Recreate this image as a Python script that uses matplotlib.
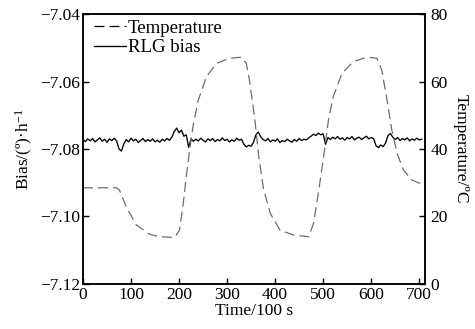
import numpy as np
import matplotlib
matplotlib.use("Agg")
import matplotlib.pyplot as plt

plt.rcParams['font.family'] = ['Liberation Serif', 'DejaVu Serif']
plt.rcParams['mathtext.fontset'] = 'custom'
plt.rcParams['mathtext.rm'] = 'Liberation Serif'
plt.rcParams['mathtext.it'] = 'Liberation Serif:italic'

# temperature curve (time in 100 s, degC)
temp_time = [0, 70, 76, 90, 111, 139, 160, 191, 201, 208, 215, 222, 229, 240, 257,
             278, 306, 330, 340, 347, 358, 366, 376, 390, 410, 438, 470, 480, 490,
             501, 511, 521, 539, 563, 591, 612, 622, 633, 643, 654, 667, 685, 705]
temp_vals = [28.5, 28.5, 27.8, 22.9, 17.5, 14.7, 14.0, 13.8, 16.0, 22.9, 31.8, 39.7,
             46.6, 54.5, 61.4, 65.4, 66.9, 67.2, 65.4, 60.0, 48.5, 37.7, 28.0, 20.9,
             16.0, 14.5, 14.0, 18.0, 26.9, 37.7, 48.6, 55.5, 62.4, 65.9, 67.2, 66.9,
             63.4, 54.5, 45.6, 38.7, 33.8, 30.8, 29.6]

# RLG bias, one reading every 5 units of time
bias_time = np.arange(0, 710, 5)
bias_vals = [
    -7.0772, -7.0778, -7.0770, -7.0776, -7.0769, -7.0779, -7.0773, -7.0767, -7.0777, -7.0771,
    -7.0780, -7.0770, -7.0775, -7.0768, -7.0776,
    -7.0800, -7.0806, -7.0785,
    -7.0772, -7.0779, -7.0768, -7.0776, -7.0771, -7.0781, -7.0774, -7.0769, -7.0778, -7.0772,
    -7.0777, -7.0770, -7.0779, -7.0774, -7.0780, -7.0771, -7.0776, -7.0769, -7.0774, -7.0765,
    -7.0748, -7.0738, -7.0752, -7.0744,
    -7.0762, -7.0758, -7.0795,
    -7.0770, -7.0777, -7.0771, -7.0776, -7.0768, -7.0774, -7.0779, -7.0770, -7.0775, -7.0769,
    -7.0778, -7.0772, -7.0776, -7.0767, -7.0775, -7.0771, -7.0779, -7.0773, -7.0777, -7.0768,
    -7.0774, -7.0771,
    -7.0786, -7.0794, -7.0789, -7.0792, -7.0780,
    -7.0758, -7.0750, -7.0764,
    -7.0772, -7.0776, -7.0769, -7.0779, -7.0773, -7.0777, -7.0770, -7.0781, -7.0775, -7.0778,
    -7.0771, -7.0776, -7.0780, -7.0772, -7.0777, -7.0769, -7.0775, -7.0771, -7.0773, -7.0767,
    -7.0762, -7.0756, -7.0760, -7.0753, -7.0758, -7.0755,
    -7.0786,
    -7.0766, -7.0772, -7.0765, -7.0770, -7.0763, -7.0771, -7.0767, -7.0774, -7.0766, -7.0770,
    -7.0763, -7.0773, -7.0768, -7.0765, -7.0772, -7.0767, -7.0762, -7.0770, -7.0766, -7.0769,
    -7.0790, -7.0796, -7.0788, -7.0793, -7.0782,
    -7.0760, -7.0754, -7.0765,
    -7.0772, -7.0766, -7.0775, -7.0769, -7.0773, -7.0767, -7.0776, -7.0770, -7.0774, -7.0768,
    -7.0773, -7.0771,
]

bias_ticks = [-7.12, -7.10, -7.08, -7.06, -7.04]
temp_ticks = [0, 20, 40, 60, 80]
time_ticks = [0, 100, 200, 300, 400, 500, 600, 700]

fig = plt.figure(figsize=(4.75, 3.29), dpi=100)
ax = fig.add_axes([0.1747, 0.1368, 0.72, 0.8206])
ax2 = ax.twinx()

l_bias, = ax.plot(bias_time, bias_vals, color='black', lw=0.95, label='RLG bias')
l_temp, = ax2.plot(temp_time, temp_vals, color='#6e6e6e', lw=0.9, dashes=(8, 4),
                   label='Temperature')

ax.set_xlim(0, 712)
ax.set_ylim(-7.12, -7.04)
ax2.set_ylim(0, 80)
ax.set_xticks(time_ticks)
ax.set_yticks(bias_ticks)
ax.set_yticklabels(['\u22127.12', '\u22127.10', '\u22127.08', '\u22127.06', '\u22127.04'])
ax2.set_yticks(temp_ticks)

ax.tick_params(direction='in', length=4, width=1, labelsize=12.5, pad=2)
ax2.tick_params(direction='in', length=4, width=1, labelsize=12.5, pad=4)
for a in (ax, ax2):
    for s in a.spines.values():
        s.set_linewidth(1.1)

ax.set_xlabel('Time/100 s', fontsize=12.5, labelpad=0)
ax.set_ylabel('Bias/(\u00ba)\u00b7h$^{-1}$', fontsize=12.5, labelpad=4)
ax2.set_ylabel('Temperature/\u00baC', fontsize=12.5, rotation=-90, labelpad=15)

leg = ax.legend([l_temp, l_bias], ['Temperature', 'RLG bias'], loc='upper left',
                bbox_to_anchor=(0.0, 1.02), frameon=False, fontsize=13.5,
                handlelength=1.7, handletextpad=0.1, borderaxespad=0.2,
                labelspacing=0.12)
leg.legend_handles[0].set_color('black')

fig.savefig('out.png', dpi=100)
